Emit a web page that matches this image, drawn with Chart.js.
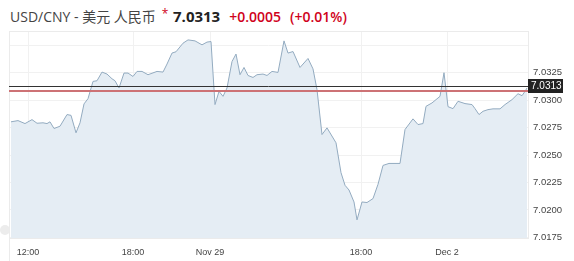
<!DOCTYPE html>
<html>
<head>
<meta charset="utf-8">
<script src="https://cdn.jsdelivr.net/npm/chart.js@4"></script>
<style>
  html, body { margin: 0; padding: 0; background: #fff; width: 574px; height: 261px; overflow: hidden; }
  #title { position: absolute; left: 10px; top: 6px; font-family: "Open Sans", "Noto Sans CJK SC", sans-serif; font-size: 14px; color: #444; white-space: nowrap; line-height: 20px; }
  #title .star { color: #d0021b; font-size: 12px; position: relative; top: -4px; margin-left: 6px; }
  #title .last { color: #222; font-weight: bold; font-size: 15px; margin-left: 1px; }
  #title .chg { color: #d0021b; font-weight: 600; font-size: 14px; margin-left: 9px; }
  #c { position: absolute; left: 0; top: 0; }
</style>
</head>
<body>
<div id="title">USD/CNY - 美元 人民币<span class="star">*</span> <span class="last">7.0313</span><span class="chg">+0.0005</span><span class="chg">(+0.01%)</span></div>
<canvas id="c" width="574" height="261"></canvas>
<script>
// Position along the (gap-compressed) session timeline
const t = [2,9,16,23,28,34,38,41,45,51,58,62,67,71,75,79,84,88,93,98,103,106,110,115,119,124,128,133,139,148,154,158,163,167,174,179,186,193,198,202,206,210,214,218,223,227,231,235,239,244,248,254,258,263,269,275,279,284,291,299,304,308,313,318,327,332,336,340,345,348,353,358,364,369,374,380,391,396,404,409,414,417,423,431,435,439,444,449,456,463,466,470,474,479,484,491,496,503,509,513,516,518];
const rate = [7.02803,7.02814,7.02787,7.02823,7.02790,7.02794,7.02787,7.02803,7.02742,7.02763,7.02869,7.02862,7.02703,7.02794,7.02966,7.03014,7.03171,7.03177,7.03256,7.03238,7.03195,7.03177,7.03111,7.03247,7.03247,7.03216,7.03262,7.03262,7.03232,7.03262,7.03256,7.03329,7.03429,7.03441,7.03519,7.03549,7.03540,7.03504,7.03529,7.03534,7.02960,7.03080,7.03035,7.03111,7.03352,7.03420,7.03232,7.03298,7.03225,7.03207,7.03232,7.03238,7.03225,7.03262,7.03253,7.03540,7.03429,7.03443,7.03298,7.03380,7.03285,7.03096,7.02687,7.02748,7.02612,7.02340,7.02225,7.02182,7.02073,7.01910,7.02073,7.02068,7.02104,7.02234,7.02406,7.02424,7.02424,7.02733,7.02830,7.02778,7.02787,7.02944,7.02975,7.03035,7.03250,7.02941,7.02923,7.02990,7.02969,7.02960,7.02923,7.02869,7.02899,7.02914,7.02921,7.02921,7.02960,7.03005,7.03059,7.03041,7.03080,7.03111];
const xTickPos = [19, 124, 201, 352, 438];
const xTickLabels = ["12:00", "18:00", "Nov 29", "18:00", "Dec 2"];
const yTicks = [7.0175, 7.0200, 7.0225, 7.0250, 7.0275, 7.0300, 7.0325, 7.0350];
const lastPrice = 7.0313;
const prevClose = 7.0308;

const priceLines = {
  id: 'priceLines',
  beforeDraw(chart) {
    const ctx = chart.ctx;
    ctx.save();
    ctx.fillStyle = '#ececec';
    ctx.beginPath(); ctx.arc(5, 230, 5, 0, Math.PI * 2); ctx.fill();
    ctx.restore();
  },
  afterDatasetsDraw(chart) {
    const ctx = chart.ctx, a = chart.chartArea, y = chart.scales.y;
    ctx.save();
    ctx.strokeStyle = '#ebebeb'; ctx.lineWidth = 1;
    ctx.strokeRect(a.left + 0.5, a.top + 0.5, a.right - a.left, a.bottom - a.top);
    ctx.beginPath(); ctx.moveTo(a.left + 0.5, a.bottom); ctx.lineTo(a.left + 0.5, chart.height); ctx.stroke();
    const yp = Math.round(y.getPixelForValue(prevClose));
    ctx.strokeStyle = '#cd7275'; ctx.lineWidth = 2;
    ctx.beginPath(); ctx.moveTo(a.left, yp); ctx.lineTo(a.right, yp); ctx.stroke();
    const yl = Math.round(y.getPixelForValue(lastPrice)) + 0.5;
    ctx.strokeStyle = '#333'; ctx.lineWidth = 1;
    ctx.beginPath(); ctx.moveTo(a.left, yl); ctx.lineTo(a.right, yl); ctx.stroke();
    ctx.fillStyle = '#222';
    ctx.fillRect(a.right, yl - 7.5, 35, 14);
    ctx.fillStyle = '#fff';
    ctx.font = '10px "Liberation Sans", Arial, sans-serif';
    ctx.textBaseline = 'middle';
    ctx.fillText(lastPrice.toFixed(4), a.right + 3, yl);
    ctx.restore();
  }
};

new Chart(document.getElementById('c'), {
  type: 'line',
  data: {
    datasets: [{
      data: t.map((x, i) => ({ x: x, y: rate[i] })),
      borderColor: '#93abc0',
      backgroundColor: '#e5edf4',
      borderWidth: 1,
      fill: 'start',
      pointRadius: 0,
      tension: 0
    }]
  },
  options: {
    responsive: false,
    devicePixelRatio: 1,
    animation: false,
    layout: { padding: { left: 9, top: 31, right: 0, bottom: 0 } },
    plugins: { legend: { display: false }, tooltip: { enabled: false } },
    scales: {
      x: {
        type: 'linear', min: 0, max: 519,
        afterBuildTicks(s) { s.ticks = xTickPos.map(v => ({ value: v })); },
        afterFit(s) { s.height = 23; },
        grid: { color: '#f1f1f1', drawTicks: false },
        border: { display: false },
        ticks: {
          padding: 9, maxRotation: 0, autoSkip: false,
          color: '#444', font: { family: '"Liberation Sans", Arial, sans-serif', size: 9 },
          callback(v) { const i = xTickPos.indexOf(v); return i >= 0 ? xTickLabels[i] : ''; }
        }
      },
      y: {
        type: 'linear', position: 'right', min: 7.01745, max: 7.0363,
        afterBuildTicks(s) { s.ticks = yTicks.map(v => ({ value: v })); },
        afterFit(s) { s.width = 46; },
        grid: { color: '#f1f1f1', drawTicks: false },
        border: { display: false },
        ticks: {
          padding: 5, autoSkip: false,
          color: '#444', font: { family: '"Liberation Sans", Arial, sans-serif', size: 9.5 },
          callback(v) { return v > 7.034 ? '' : v.toFixed(4); }
        }
      }
    }
  },
  plugins: [priceLines]
});
</script>
</body>
</html>
